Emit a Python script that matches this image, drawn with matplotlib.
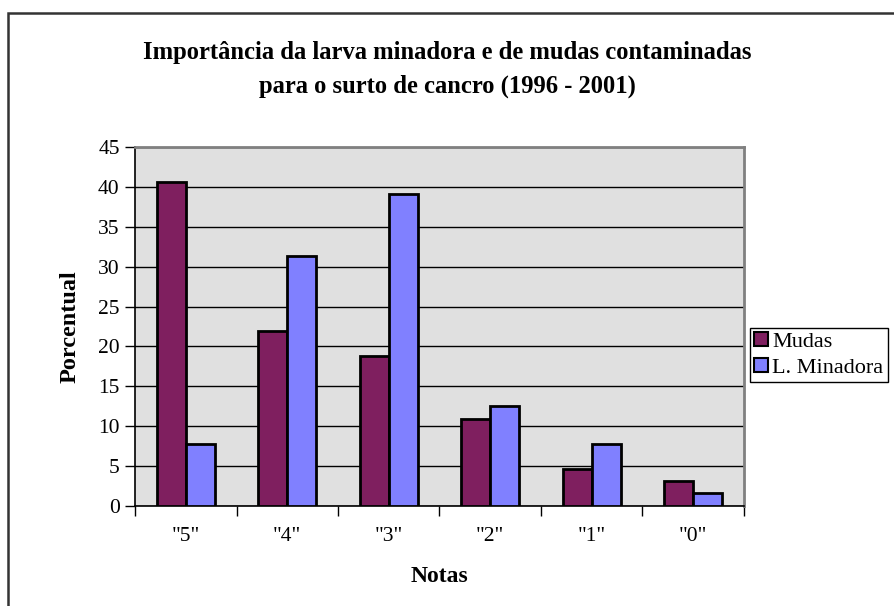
import matplotlib.pyplot as plt
import matplotlib.patches as patches
import numpy as np

# Data
categories = ['"5"', '"4"', '"3"', '"2"', '"1"', '"0"']
mudas = [40.6, 21.9, 18.8, 10.9, 4.7, 3.1]
minadora = [7.8, 31.3, 39.1, 12.5, 7.8, 1.6]
series_names = ['Mudas', 'L. Minadora']

# Colours (Excel style)
col_mudas = '#7F1F5F'
col_minadora = '#8080FF'

plt.rcParams['font.family'] = ['Liberation Serif', 'DejaVu Serif']

fig = plt.figure(figsize=(8.95, 6.06), dpi=100)
ax = fig.add_axes([135 / 895, 1 - 506 / 606, 609 / 895, 359 / 606])

# Outer chart border
fig.patches.append(patches.Rectangle((8 / 895, -0.05), 1.0, (606 - 13) / 606 + 0.05,
                                     transform=fig.transFigure, fill=False,
                                     edgecolor='#333333', linewidth=1.8, clip_on=False))

x = np.arange(len(categories))
bw = 1 / 3.5
ax.bar(x - bw / 2, mudas, width=bw, color=col_mudas, edgecolor='black',
       linewidth=2, label=series_names[0], zorder=3)
ax.bar(x + bw / 2, minadora, width=bw, color=col_minadora, edgecolor='black',
       linewidth=2, label=series_names[1], zorder=3)

ax.set_facecolor('#E0E0E0')
ax.set_xlim(-0.5, len(categories) - 0.5)
ax.set_ylim(0, 45)
ax.set_yticks(np.arange(0, 46, 5))
ax.yaxis.grid(True, color='black', linewidth=1, zorder=1)
ax.set_axisbelow(True)

# Category labels and boundary ticks
ax.set_xticks(x)
ax.set_xticklabels(categories, fontsize=15.5)
ax.set_xticks(np.arange(-0.5, len(categories), 1), minor=True)
ax.tick_params(axis='x', which='major', length=0, pad=15)
ax.tick_params(axis='x', which='minor', length=7, width=1, direction='out', color='black')
ax.tick_params(axis='y', length=7, width=1, direction='out', labelsize=15.5, pad=4)

for side in ['left', 'bottom']:
    ax.spines[side].set_color('black')
    ax.spines[side].set_linewidth(1.2)
for side in ['top', 'right']:
    ax.spines[side].set_color('#808080')
    ax.spines[side].set_linewidth(2)

ax.set_xlabel('Notas', fontsize=17, fontweight='bold')
ax.xaxis.set_label_coords(0.5, -(577 - 506) / 359)
ax.xaxis.label.set_va('center')
ax.set_ylabel('Porcentual', fontsize=17.5, fontweight='bold')
ax.yaxis.set_label_coords(-(135 - 70) / 609, 0.5)
ax.yaxis.label.set_va('center')

fig.text(0.5, 1 - 52 / 606, 'Importância da larva minadora e de mudas contaminadas',
         ha='center', va='center', fontsize=17.7, fontweight='bold')
fig.text(0.5, 1 - 86 / 606, 'para o surto de cancro (1996 - 2001)',
         ha='center', va='center', fontsize=17.7, fontweight='bold')

leg = ax.legend(loc='center left', bbox_to_anchor=(750 / 895, 1 - 355 / 606),
                bbox_transform=fig.transFigure, fontsize=16, frameon=True,
                fancybox=False, edgecolor='black', framealpha=1,
                handlelength=0.6, handleheight=0.6, handletextpad=0.2,
                borderpad=0.2, labelspacing=0.25, borderaxespad=0)
leg.get_frame().set_linewidth(1)
for h in leg.legend_handles:
    h.set_linewidth(1.5)

fig.savefig('out.png', dpi=100)
